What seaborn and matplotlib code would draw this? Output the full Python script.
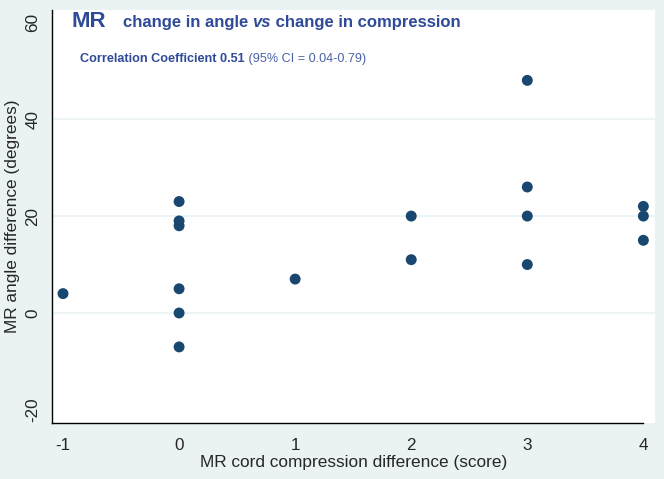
import matplotlib
matplotlib.use("Agg")
import matplotlib.pyplot as plt
import seaborn as sns
import pandas as pd

# data
compression_diff = [-1, 0, 0, 0, 0, 0, 0, 1, 2, 2, 3, 3, 3, 3, 4, 4, 4]
angle_diff = [4, 23, 19, 18, 5, 0, -7, 7, 20, 11, 48, 26, 20, 10, 22, 20, 15]
x_ticks = [-1, 0, 1, 2, 3, 4]
y_ticks = [-20, 0, 20, 40, 60]
grid_lines = [0, 20, 40]

df = pd.DataFrame({"compression": compression_diff, "angle": angle_diff})

sns.set_style("white")
plt.rcParams['font.family'] = ['Liberation Sans', 'DejaVu Sans']

bg = "#eaf2f3"
title_col = "#2f4a98"

fig = plt.figure(figsize=(6.64, 4.79), dpi=100, facecolor=bg)
ax = fig.add_axes([0.0783, 0.1169, 0.9081, 0.862])
ax.set_facecolor("white")

for g in grid_lines:
    ax.axhline(g, color=bg, lw=1.2, zorder=0)

sns.scatterplot(data=df, x="compression", y="angle", color="#1a476f",
                s=62, edgecolor="none", ax=ax, zorder=3)

ax.set_xlim(-1.095, 4.1)
ax.set_ylim(-22.7, 62.5)
ax.set_xticks(x_ticks)
ax.set_xticklabels([str(t) for t in x_ticks])
ax.set_yticks(y_ticks)
ax.set_yticklabels([str(t) for t in y_ticks], rotation=90, va="center")
ax.tick_params(axis="both", direction="out", length=5, width=1, color="black",
               labelsize=12.3)
ax.tick_params(axis="x", pad=6)
ax.tick_params(axis="y", pad=3.5)

for side in ["top", "right"]:
    ax.spines[side].set_visible(False)
for side in ["left", "bottom"]:
    ax.spines[side].set_color("black")
    ax.spines[side].set_linewidth(1)
ax.spines["bottom"].set_bounds(-1.095, 4)

ax.set_xlabel("MR cord compression difference (score)", fontsize=12.4, labelpad=1)
ax.set_ylabel("MR angle difference (degrees)", fontsize=12.4, labelpad=4)

fig.canvas.draw()
r = fig.canvas.get_renderer()

# title block
ax.text(0.033, 0.959, "MR", transform=ax.transAxes, fontsize=16, fontweight="bold",
        color=title_col, va="baseline")

# build the title line piece by piece so "vs" is bold italic
pieces = [("change in angle ", "normal"), ("vs", "italic"), (" change in compression", "normal")]
x0 = 0.117
for s, style in pieces:
    t = ax.text(x0, 0.959, s, transform=ax.transAxes, fontsize=12, fontweight="bold",
                fontstyle=style, color=title_col, va="baseline")
    bb = t.get_window_extent(renderer=r).transformed(ax.transAxes.inverted())
    x0 = bb.x1

t1 = ax.text(0.047, 0.874, "Correlation Coefficient 0.51", transform=ax.transAxes, fontsize=9.1,
             fontweight="bold", color=title_col, va="baseline")
bb = t1.get_window_extent(renderer=r).transformed(ax.transAxes.inverted())
ax.text(bb.x1, 0.874, " (95% CI = 0.04-0.79)", transform=ax.transAxes, fontsize=9.1,
        color="#4a62a6", va="baseline")

fig.savefig("out.png", dpi=100, facecolor=bg)
